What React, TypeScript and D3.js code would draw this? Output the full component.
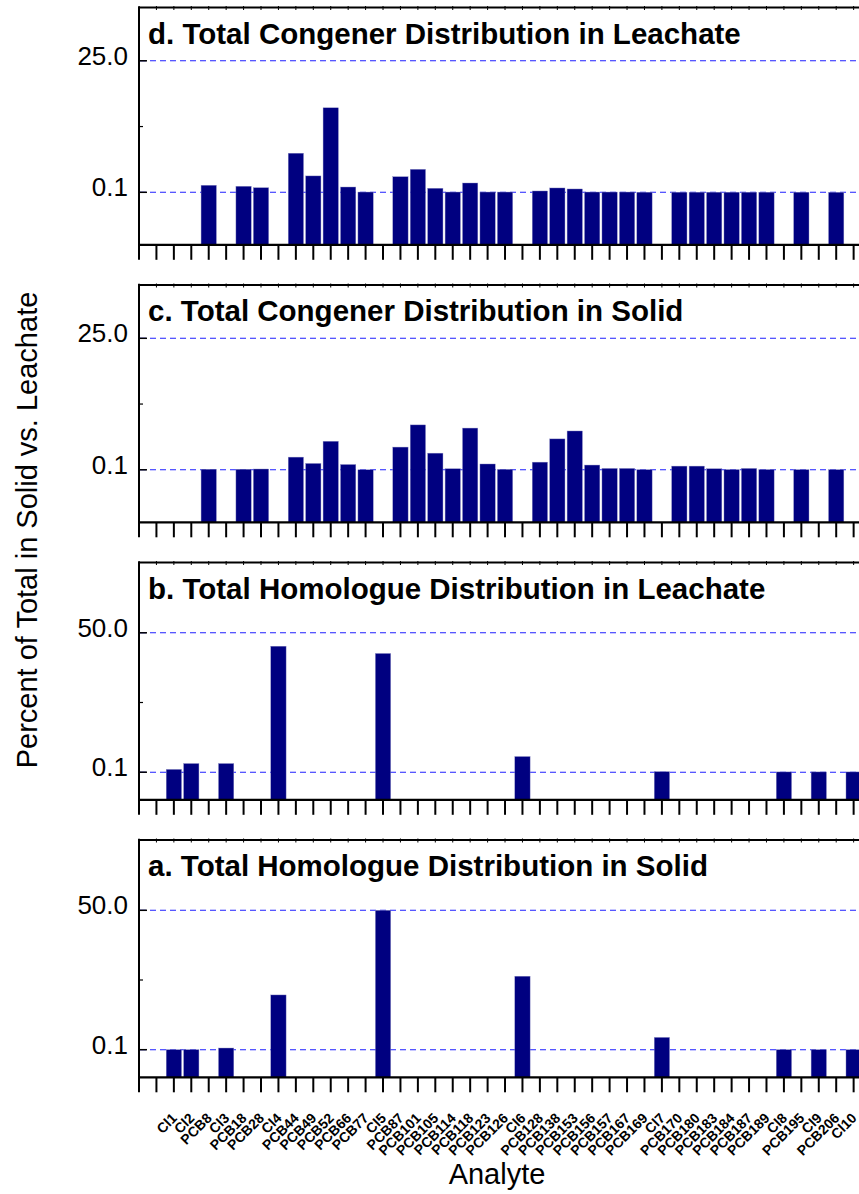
import React from 'react';
import * as d3 from 'd3';

// Analyte order along the shared x axis (homologue totals interleaved with congeners)
const analytes = [
  'Cl1', 'Cl2', 'PCB8', 'Cl3', 'PCB18', 'PCB28', 'Cl4', 'PCB44', 'PCB49', 'PCB52',
  'PCB66', 'PCB77', 'Cl5', 'PCB87', 'PCB101', 'PCB105', 'PCB114', 'PCB118', 'PCB123', 'PCB126',
  'Cl6', 'PCB128', 'PCB138', 'PCB153', 'PCB156', 'PCB157', 'PCB167', 'PCB169', 'Cl7', 'PCB170',
  'PCB180', 'PCB183', 'PCB184', 'PCB187', 'PCB189', 'Cl8', 'PCB195', 'Cl9', 'PCB206', 'Cl10',
];

const homologues = ['Cl1', 'Cl2', 'Cl3', 'Cl4', 'Cl5', 'Cl6', 'Cl7', 'Cl8', 'Cl9', 'Cl10'];
const homologueSolid = [0.1, 0.1, 0.7, 19.7, 50.0, 26.4, 4.5, 0.1, 0.1, 0.1];
const homologueLeachate = [1.1, 3.2, 3.2, 45.2, 42.6, 5.7, 0.3, 0.2, 0.2, 0.2];

const congeners = [
  'PCB8', 'PCB18', 'PCB28', 'PCB44', 'PCB49', 'PCB52', 'PCB66', 'PCB77', 'PCB87', 'PCB101',
  'PCB105', 'PCB114', 'PCB118', 'PCB123', 'PCB126', 'PCB128', 'PCB138', 'PCB153', 'PCB156', 'PCB157',
  'PCB167', 'PCB169', 'PCB170', 'PCB180', 'PCB183', 'PCB184', 'PCB187', 'PCB189', 'PCB195', 'PCB206',
];
const congenerSolid = [
  0.2, 0.2, 0.25, 2.5, 1.3, 5.5, 1.1, 0.1, 4.4, 8.6,
  3.25, 0.3, 8.0, 1.2, 0.18, 1.55, 5.95, 7.45, 1.0, 0.36,
  0.36, 0.12, 0.8, 0.8, 0.3, 0.14, 0.36, 0.14, 0.12, 0.12,
];
const congenerLeachate = [
  1.43, 1.24, 0.97, 7.5, 3.2, 16.1, 1.1, 0.15, 3.05, 4.45,
  0.86, 0.15, 1.86, 0.15, 0.15, 0.35, 0.92, 0.73, 0.15, 0.15,
  0.15, 0.12, 0.12, 0.12, 0.12, 0.12, 0.12, 0.12, 0.12, 0.1,
];

const congenerTicks = ['0.1', '25.0'];
const homologueTicks = ['0.1', '50.0'];

const panelTitles = [
  'd. Total Congener Distribution in Leachate',
  'c. Total Congener Distribution in Solid',
  'b. Total Homologue Distribution in Leachate',
  'a. Total Homologue Distribution in Solid',
];

type Panel = {
  title: string;
  names: string[];
  values: number[];
  ticks: string[];
  top: number;
  breakPx: number;
  topTickPx: number;
};

const W = 859;
const Hsvg = 1194;
const PLOT_H = 237.3;
const X0 = 139;
const STEP = 17.43;
const N_POS = 43;
const BAR_W = 15.3;
const FONT = "'Liberation Sans', Arial, Helvetica, sans-serif";

const panels: Panel[] = [
  { title: panelTitles[0], names: congeners, values: congenerLeachate, ticks: congenerTicks, top: 7.5, breakPx: 52.5, topTickPx: 184.0 },
  { title: panelTitles[1], names: congeners, values: congenerSolid, ticks: congenerTicks, top: 285, breakPx: 52.5, topTickPx: 184.0 },
  { title: panelTitles[2], names: homologues, values: homologueLeachate, ticks: homologueTicks, top: 562.5, breakPx: 27.6, topTickPx: 167.0 },
  { title: panelTitles[3], names: homologues, values: homologueSolid, ticks: homologueTicks, top: 840, breakPx: 27.6, topTickPx: 167.0 },
];

const x = d3.scaleLinear().domain([0, N_POS]).range([X0, X0 + N_POS * STEP]);
const posOf = (name: string) => analytes.indexOf(name) + 2;
const tickPositions = d3.range(0, N_POS + 1);

function PanelView({ p }: { p: Panel }) {
  const lo = +p.ticks[0];
  const hi = +p.ticks[1];
  // Piecewise-linear value axis: 0..0.1 on a short lower segment, 0.1..max above it
  const y = d3
    .scaleLinear()
    .domain([0, lo, hi])
    .range([PLOT_H, PLOT_H - p.breakPx, PLOT_H - p.topTickPx]);
  const xEnd = x(N_POS);
  const mid = (lo + hi) / 2;
  return (
    <g transform={`translate(0,${p.top})`}>
      {/* grid lines */}
      {[lo, hi].map((v) => (
        <line key={'g' + v} x1={X0 + 1} x2={xEnd} y1={y(v)} y2={y(v)} stroke="#2020ff" strokeWidth={1.1} strokeDasharray="6,4" />
      ))}
      {/* bars */}
      {p.names.map((n, i) => {
        const cx = x(posOf(n));
        return (
          <rect
            key={n}
            x={cx - BAR_W / 2}
            y={y(p.values[i])}
            width={BAR_W}
            height={PLOT_H - y(p.values[i])}
            fill="#000080"
            stroke="#8a8ac4"
            strokeWidth={0.4}
          />
        );
      })}
      {/* frame */}
      <line x1={X0} x2={xEnd} y1={0} y2={0} stroke="#000" strokeWidth={2} />
      <line x1={X0} x2={X0} y1={-1} y2={PLOT_H + 1} stroke="#000" strokeWidth={2} />
      <line x1={X0} x2={xEnd} y1={PLOT_H} y2={PLOT_H} stroke="#000" strokeWidth={2.2} />
      {/* left ticks */}
      {[lo, hi].map((v) => (
        <line key={'t' + v} x1={X0} x2={X0 + 8} y1={y(v)} y2={y(v)} stroke="#000" strokeWidth={1.5} />
      ))}
      <line x1={X0} x2={X0 + 4} y1={y(mid)} y2={y(mid)} stroke="#000" strokeWidth={1.2} />
      {p.ticks.map((t) => (
        <text key={'l' + t} x={128} y={y(+t) + 4} textAnchor="end" fontFamily={FONT} fontSize={26} fill="#000">
          {t}
        </text>
      ))}
      {/* bottom ticks and small top ticks */}
      {tickPositions.map((k) => (
        <g key={'bt' + k}>
          <line x1={x(k)} x2={x(k)} y1={PLOT_H} y2={PLOT_H + 15} stroke="#000" strokeWidth={2} />
          <line x1={x(k)} x2={x(k)} y1={-1.5} y2={2.5} stroke="#000" strokeWidth={1} />
        </g>
      ))}
      <text x={148} y={36} fontFamily={FONT} fontSize={29.5} fontWeight="bold" fill="#000">
        {p.title}
      </text>
    </g>
  );
}

export default function App() {
  const labelY = 1119;
  return (
    <svg
      width={W}
      height={Hsvg}
      viewBox={`0 0 ${W} ${Hsvg}`}
      style={{ position: 'absolute', left: 0, top: 0, background: '#fff' }}
    >
      <rect x={0} y={0} width={W} height={Hsvg} fill="#fff" />
      {panels.map((p) => (
        <PanelView key={p.title} p={p} />
      ))}
      {analytes.map((a, i) => {
        const ax = x(i + 2) + 4;
        return (
          <text
            key={a}
            transform={`translate(${ax},${labelY}) rotate(-45)`}
            textAnchor="end"
            fontFamily={FONT}
            fontSize={14}
            fontWeight="bold"
            fill="#000"
          >
            {a}
          </text>
        );
      })}
      <text x={497} y={1184} textAnchor="middle" fontFamily={FONT} fontSize={29} fill="#000">
        Analyte
      </text>
      <text
        transform="translate(37,530) rotate(-90)"
        textAnchor="middle"
        fontFamily={FONT}
        fontSize={29}
        fill="#000"
      >
        Percent of Total in Solid vs. Leachate
      </text>
    </svg>
  );
}
